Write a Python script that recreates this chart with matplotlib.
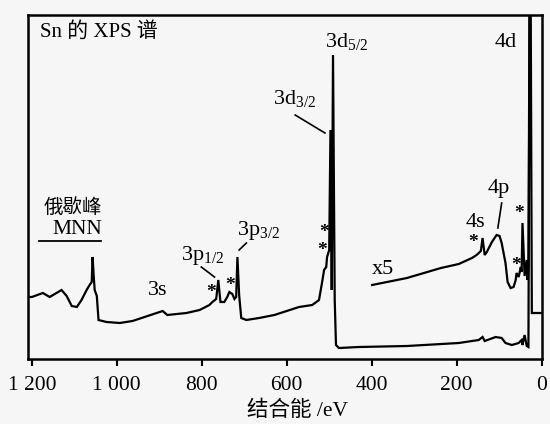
import matplotlib
matplotlib.use("Agg")
import matplotlib.pyplot as plt

plt.rcParams['font.family'] = ['Liberation Serif', 'Noto Sans CJK SC']
plt.rcParams['mathtext.fontset'] = 'custom'
plt.rcParams['mathtext.rm'] = 'Liberation Serif'

# Survey spectrum (binding energy in eV, intensity in arbitrary units)
survey_be = [1209, 1200, 1174, 1158, 1130, 1118, 1106, 1094, 1083, 1071, 1064, 1059,
             1057, 1054, 1052, 1047, 1043, 1024, 993, 963, 892, 881, 836, 805, 782,
             775, 766, 761, 756, 747, 740, 735, 728, 723, 719, 716, 712, 707, 695,
             665, 629, 571, 540, 524, 517, 512, 507, 505, 500, 497, 494, 491, 487,
             484, 477, 430, 317, 195, 148, 139, 134, 108, 94, 85, 70, 54, 47, 45,
             40, 35, 31, 28, 26, 23, 0]
survey_int = [62, 62, 66, 62, 69, 63, 53, 52, 59, 69, 74, 77,
              102, 81, 69, 63, 39, 37, 36, 38, 48, 44, 46, 49, 54,
              57, 60, 79, 57, 57, 62, 67, 65, 60, 62, 102, 64, 41, 39,
              41, 44, 52, 54, 59, 76, 89, 92, 102, 109, 229, 69, 304, 59,
              14, 11, 12, 13, 16, 19, 22, 18, 22, 21, 16, 14, 16, 19, 14,
              24, 13, 12, 400, 400, 46, 46]

# Low binding-energy region magnified x5
x5_be = [399, 317, 237, 195, 164, 153, 143, 139, 134, 129, 117, 106, 99, 94, 85,
         80, 73, 66, 61, 59, 54, 49, 47, 45, 40, 35, 33, 31, 28]
x5_int = [74, 81, 91, 95, 101, 104, 108, 121, 104, 107, 117, 124, 123, 116, 96,
          77, 71, 72, 79, 86, 82, 92, 87, 136, 83, 99, 79, 92, 400]

tick_values = [1200, 1000, 800, 600, 400, 200, 0]
tick_labels = ['1 200', '1 000', '800', '600', '400', '200', '0']

fig = plt.figure(figsize=(5.5, 4.24), dpi=100)
fig.patch.set_facecolor('#f6f6f6')
ax = fig.add_axes([0.0509, 0.1533, 0.9346, 0.8113])
ax.set_facecolor('#f6f6f6')

ax.plot(survey_be, survey_int, color='black', lw=1.6, solid_joinstyle='miter')
ax.plot(x5_be, x5_int, color='black', lw=1.6, solid_joinstyle='miter')

ax.set_xlim(1209, -1)
ax.set_ylim(0, 344)
ax.set_xticks(tick_values)
ax.set_xticklabels(tick_labels)
ax.set_yticks([])
ax.tick_params(axis='x', direction='out', length=5, width=1.5, pad=7, labelsize=15.5)
for s in ax.spines.values():
    s.set_linewidth(1.8)

ax.set_xlabel('结合能 /eV', fontsize=15.5, labelpad=2)
ax.xaxis.set_label_coords(0.525, -0.12)

fs = 16
ax.text(1181, 327, 'Sn 的 XPS 谱', fontsize=15, ha='left', va='center')
ax.text(1104, 151, '俄歇峰', fontsize=14, ha='center', va='center')
ax.text(1094, 130, 'MNN', fontsize=15.5, ha='center', va='center')
ax.plot([1183, 1036], [118, 118], color='black', lw=1.3)
ax.text(904, 69, '3s', fontsize=fs, ha='center', va='center')

ax.text(798, 104, r'3p$_{\mathregular{1/2}}$', fontsize=fs, ha='center', va='center')
ax.plot([801, 770], [92, 82], color='black', lw=1.2)
ax.text(666, 129, r'3p$_{\mathregular{3/2}}$', fontsize=fs, ha='center', va='center')
ax.plot([712, 695], [109, 116], color='black', lw=1.2)
ax.text(582, 260, r'3d$_{\mathregular{3/2}}$', fontsize=fs, ha='center', va='center')
ax.plot([580, 510], [244, 226], color='black', lw=1.2)
ax.text(458, 317, r'3d$_{\mathregular{5/2}}$', fontsize=fs, ha='center', va='center')
ax.text(85, 317, '4d', fontsize=fs, ha='center', va='center')
ax.text(101, 171, '4p', fontsize=fs, ha='center', va='center')
ax.plot([94, 103], [156, 131], color='black', lw=1.2)
ax.text(155, 137, '4s', fontsize=fs, ha='center', va='center')
ax.text(373, 90, 'x5', fontsize=fs, ha='center', va='center')

# Satellite markers
star_be = [162, 54, 61, 777, 733, 512, 517]
star_int = [117, 146, 94, 67, 74, 127, 109]
for b, i in zip(star_be, star_int):
    ax.text(b, i, '*', fontsize=14, fontweight='bold', ha='center', va='center')

fig.savefig('out.png', dpi=100, facecolor=fig.get_facecolor())
